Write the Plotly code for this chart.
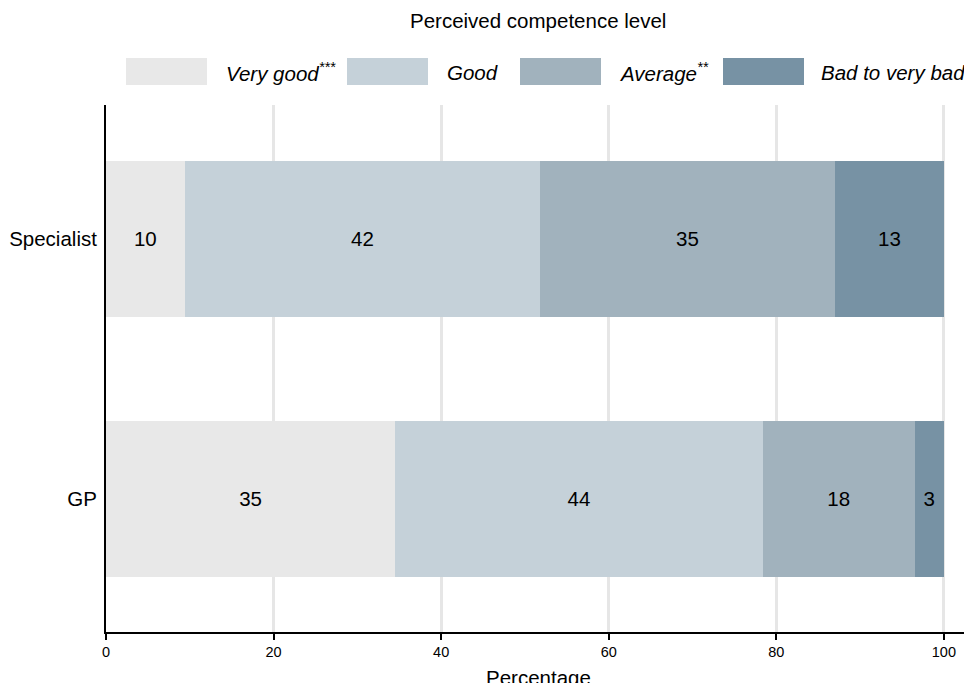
import plotly.graph_objects as go

categories = ["GP", "Specialist"]
series_names = ["Very good<sup>***</sup>", "Good", "Average<sup>**</sup>", "Bad to very bad"]
very_good = [34.5, 9.4]
good = [43.9, 42.4]
average = [18.1, 35.2]
bad = [3.5, 13.0]
labels = [["35", "10"], ["44", "42"], ["18", "35"], ["3", "13"]]
colors = ["#e8e8e8", "#c5d1d9", "#a1b2bd", "#7792a4"]
x_ticks = [0, 20, 40, 60, 80, 100]
legend_title = "Perceived competence level"
x_title = "Percentage"

values = [very_good, good, average, bad]
FONT = "Liberation Sans, Arial, sans-serif"
FS = 20.5

fig = go.Figure()
for name, vals, lab, col in zip(series_names, values, labels, colors):
    fig.add_trace(go.Bar(
        y=categories, x=vals, orientation="h", name=name,
        marker=dict(color=col, line=dict(width=0)),
        text=lab, textposition="inside", insidetextanchor="middle",
        textangle=0, textfont=dict(size=FS, color="black", family=FONT),
        showlegend=False, width=0.6,
    ))

W, H = 964, 683
L, R, T, B = 106, 0, 105, 51
pw = W - L - R
ph = H - T - B

def px_x(p):
    return (p - L) / pw

def px_y(p):
    return (H - B - p) / ph

# custom legend
box_left = [126, 347, 520, 723]
text_gap = [99, 99, 98, 97]
for i, (name, col) in enumerate(zip(series_names, colors)):
    x0 = box_left[i]
    fig.add_shape(type="rect", xref="paper", yref="paper",
                  x0=px_x(x0), x1=px_x(x0 + 81), y0=px_y(85), y1=px_y(58),
                  fillcolor=col, line=dict(width=0))
    fig.add_annotation(xref="paper", yref="paper", x=px_x(x0 + text_gap[i]), y=px_y(72),
                       text="<i>" + name + "</i>", showarrow=False,
                       xanchor="left", yanchor="middle", borderpad=0,
                       font=dict(size=FS, color="black", family=FONT))
fig.add_annotation(xref="paper", yref="paper", x=px_x(538), y=px_y(21),
                   text=legend_title, showarrow=False, xanchor="center", yanchor="middle",
                   font=dict(size=FS, color="black", family=FONT))
fig.add_annotation(xref="paper", yref="paper", x=px_x(538), y=px_y(677),
                   text=x_title, showarrow=False, xanchor="center", yanchor="middle",
                   font=dict(size=FS, color="black", family=FONT))

fig.update_layout(
    barmode="stack",
    width=W, height=H,
    margin=dict(l=L, r=R, t=T, b=B, pad=0),
    plot_bgcolor="white", paper_bgcolor="white",
    font=dict(family=FONT, color="black"),
    uniformtext=dict(minsize=FS, mode="show"),
    xaxis=dict(
        range=[0, 102.4], tickvals=x_ticks, showgrid=True, gridcolor="#e6e6e6", gridwidth=3,
        zeroline=False, showline=True, linecolor="black", linewidth=2,
        ticks="outside", ticklen=6, tickwidth=2, tickcolor="black",
        tickfont=dict(size=14.5), automargin=False,
    ),
    yaxis=dict(
        range=[-0.5115, 1.515], showgrid=False, zeroline=False, showline=True,
        linecolor="black", linewidth=2, ticks="", tickfont=dict(size=FS),
        automargin=False, ticklabelstandoff=3,
    ),
)

fig.write_html(
    "out.html",
    config={"displayModeBar": False},
    post_script="document.body.style.margin='0';document.body.style.overflow='hidden';",
)
